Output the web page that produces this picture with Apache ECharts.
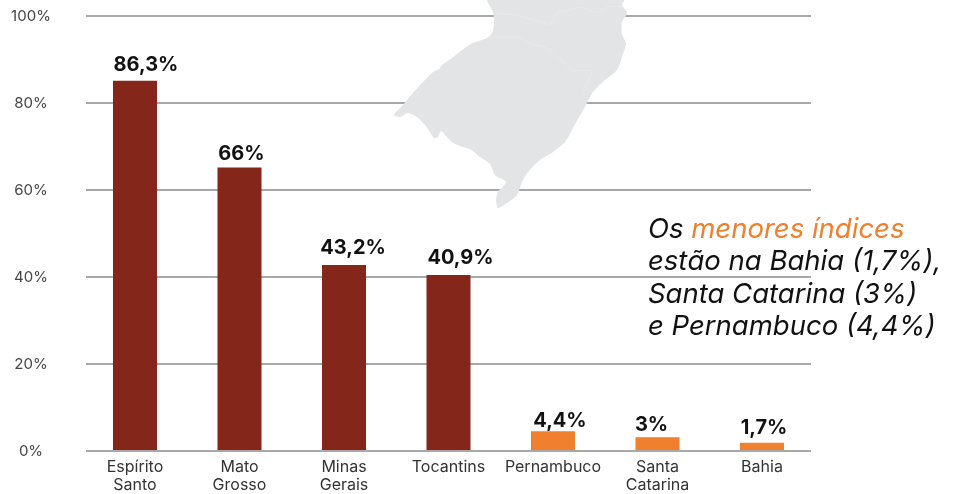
<!DOCTYPE html>
<html>
<head>
<meta charset="utf-8">
<style>
  html, body { margin: 0; padding: 0; background: #fff; }
  #chart { width: 957px; height: 494px; }
</style>
<script src="https://cdn.jsdelivr.net/npm/echarts@6/dist/echarts.min.js"></script>
</head>
<body>
<div id="chart"></div>
<script>
var categories = ['Espírito\nSanto', 'Mato\nGrosso', 'Minas\nGerais', 'Tocantins', 'Pernambuco', 'Santa\nCatarina', 'Bahia'];
var values = [86.3, 66, 43.2, 40.9, 4.4, 3, 1.7];
var valueLabels = ['86,3%', '66%', '43,2%', '40,9%', '4,4%', '3%', '1,7%'];
var highlight = [true, true, true, true, false, false, false];
var labelShiftX = [11, 2, 9, 12, 7, -6, 2];
var labelShiftY = [1, 3, 0, 0, 7, 5, 2];

var FONT = 'Inter, "Open Sans", sans-serif';
var DARK_RED = '#84261a';
var ORANGE = '#f07f2e';

// silhouette behind the bars (decoration, pixel coordinates)
var mapShape = [[488,0],[493,12],[494,23],[492,33],[487,38],[473,43],[462,50],[452,58],[442,65],[439,69],[433,72],[423,82],[413,93],[403,105],[394,115],[400,117],[408,113],[417,117],[425,125],[430,132],[434,138],[438,137],[441,131],[447,137],[452,142],[460,146],[470,149],[480,157],[490,164],[495,175],[506,182],[498,192],[496,200],[498,208],[507,203],[517,195],[522,182],[528,172],[540,160],[553,152],[565,142],[573,128],[587,103],[593,92],[605,80],[617,70],[622,57],[626,43],[622,35],[622,22],[627,13],[622,5],[624,0]];
var borderA = [[495,13],[517,15],[527,18],[550,25],[557,13],[580,7],[597,13],[607,7],[622,6]];
var borderB = [[490,37],[517,37],[530,43],[547,48],[572,70],[593,71],[588,82],[583,90],[592,92]];

var chart = echarts.init(document.getElementById('chart'));

chart.setOption({
  animation: false,
  backgroundColor: '#fff',
  textStyle: { fontFamily: FONT },
  grid: [
    { left: 86, width: 725, top: 16, height: 435 },
    { left: 82.75, width: 731.5, top: 22, height: 430 }
  ],
  xAxis: [
    { gridIndex: 0, type: 'category', data: categories, show: false },
    {
      gridIndex: 1,
      type: 'category',
      data: categories,
      axisLine: { show: false },
      axisTick: { show: false },
      axisLabel: { interval: 0, color: '#333', fontSize: 16, lineHeight: 18, margin: 8, fontFamily: FONT }
    }
  ],
  yAxis: [
    {
      gridIndex: 0,
      type: 'value',
      min: 0,
      max: 100,
      interval: 20,
      axisLine: { show: false },
      axisTick: { show: false },
      splitLine: { lineStyle: { color: '#a8a8a8', width: 2 } },
      axisLabel: {
        color: '#444',
        fontSize: 15,
        margin: 55,
        align: 'center',
        padding: [4, 0, 0, 0],
        fontFamily: FONT,
        formatter: '{value}%'
      }
    },
    { gridIndex: 1, type: 'value', min: 0, max: 100, show: false }
  ],
  series: [{
    type: 'bar',
    xAxisIndex: 1,
    yAxisIndex: 1,
    barWidth: 44,
    z: 5,
    data: values.map(function (v, i) {
      return {
        value: v,
        itemStyle: { color: highlight[i] ? DARK_RED : ORANGE },
        label: {
          show: true,
          position: 'top',
          distance: 7,
          offset: [labelShiftX[i], labelShiftY[i]],
          formatter: valueLabels[i],
          color: '#111',
          fontSize: 20,
          fontWeight: 'bold',
          fontFamily: FONT
        }
      };
    })
  }],
  graphic: [
    { type: 'polygon', z: 3, shape: { points: mapShape, smooth: 0.25 }, style: { fill: '#e3e4e6' } },
    { type: 'polyline', z: 4, shape: { points: borderA }, style: { stroke: '#e9e9eb', lineWidth: 1, fill: null } },
    { type: 'polyline', z: 4, shape: { points: borderB }, style: { stroke: '#e9e9eb', lineWidth: 1, fill: null } },
    {
      type: 'text',
      z: 6,
      left: 648,
      top: 216,
      style: {
        text: '{a|Os }{b|menores índices}\n{a|estão na Bahia (1,7%),}\n{a|Santa Catarina (3%)}\n{a|e Pernambuco (4,4%)}',
        rich: {
          a: { fontFamily: FONT, fontStyle: 'italic', fontSize: 27.5, lineHeight: 32.5, fill: '#111' },
          b: { fontFamily: FONT, fontStyle: 'italic', fontSize: 27.5, lineHeight: 32.5, fill: ORANGE }
        }
      }
    }
  ]
});
</script>
</body>
</html>
